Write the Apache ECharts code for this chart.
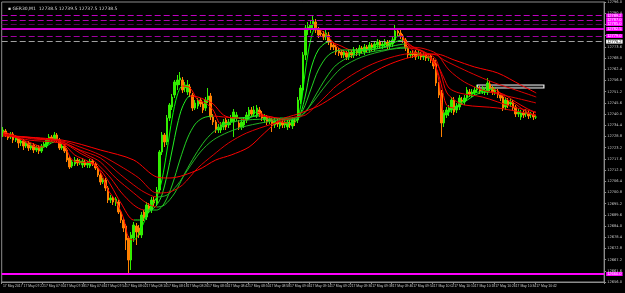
<!DOCTYPE html>
<html><head><meta charset="utf-8">
<script src="https://cdn.jsdelivr.net/npm/echarts@6/dist/echarts.min.js"></script>
<style>html,body{margin:0;padding:0;background:#000;}#c{width:625px;height:293px;}</style>
</head><body><div id="c"></div>
<script>
const symbolTitle = '\u25AA GER30,M1  12738.5 12739.5 12737.5 12738.5';
const xTickLabels = ['17 May 2017','17 May 07:22','17 May 07:30','17 May 07:38','17 May 07:46','17 May 07:54','17 May 08:02','17 May 08:10','17 May 08:18','17 May 08:26','17 May 08:34','17 May 08:42','17 May 08:50','17 May 08:58','17 May 09:06','17 May 09:14','17 May 09:22','17 May 09:30','17 May 09:38','17 May 09:46','17 May 09:54','17 May 10:02','17 May 10:10','17 May 10:18','17 May 10:26','17 May 10:34','17 May 10:42'];
const barCount = 235;
const startMinute = 7*60+14;
const categories = [];
for (let k=0;k<barCount;k++){const t=startMinute+k;categories.push('17 May '+String(Math.floor(t/60)).padStart(2,'0')+':'+String(t%60).padStart(2,'0'));}

// [open, close, low, high]
const candles = [
[12730.5,12732,12728.5,12733.5],[12731.5,12729.5,12728.5,12732.5],[12729.5,12728,12727,12730.5],[12728.5,12730,12727.5,12731],[12730,12727,12725.5,12731],
[12727,12728.5,12726,12729.5],[12728,12725.5,12723,12729],[12725.5,12726.5,12724,12727.5],[12726.5,12724,12722,12727.5],[12724,12725.5,12723,12726.5],
[12725.5,12723,12721.5,12726.5],[12723,12724.5,12722,12725.5],[12724.5,12722,12720.5,12725.5],[12722,12723.5,12721,12724.5],[12723.5,12721.5,12720,12724.5],
[12721.5,12724,12720.5,12725],[12724,12725,12723,12726],[12724,12727,12723,12728],[12726.5,12728.5,12725.5,12730],[12728.5,12727,12726,12729.5],
[12727,12729.5,12726,12731],[12729.5,12727,12726,12730.5],[12727,12723,12722,12728],[12723,12724,12722,12725],[12724,12721.5,12720.5,12725],
[12722,12717,12716,12723],[12718,12713.5,12712.5,12719],[12714,12716,12713,12717],[12715,12717,12714,12718.5],[12717,12715.5,12714,12718],
[12715.5,12716.5,12714.5,12717.5],[12714.5,12716.5,12713,12718],[12716,12714.5,12713.5,12717],[12714.5,12715.5,12713,12716.5],[12714,12716.5,12713,12717.5],
[12716.5,12715,12714,12717.5],[12715,12713,12712,12716],[12713,12709.5,12708.5,12714],[12709.5,12706,12704.5,12710.5],[12706,12707,12705,12708],
[12707,12703,12701.5,12708],[12703,12697,12695.5,12704],[12697,12698,12695.5,12699.5],[12698,12696,12694.5,12699],[12695.5,12697.5,12694,12698.5],
[12696,12691,12690,12697],[12691,12687,12685.5,12692],[12687,12683,12681,12688],[12684,12677,12672,12685],[12678,12667,12659.5,12679],
[12667,12679.5,12662,12681],[12678,12684.5,12676,12686],[12684,12681,12674.5,12685.5],[12683,12679.5,12678,12684.5],[12679.5,12689.5,12678,12691],
[12691,12688,12686.5,12692],[12688.5,12694.5,12687,12696],[12694,12692,12690.5,12695.5],[12692,12697,12690.5,12698.5],[12697,12695.5,12694,12698.5],
[12695.5,12702,12694,12703.5],[12702,12721,12700.5,12722],[12721,12729.5,12719.5,12731],[12729.5,12726,12723.5,12730.5],[12726,12738,12724.5,12739.5],
[12738,12744.5,12736.5,12745.5],[12743.5,12748.5,12742,12750],[12749.5,12756,12748,12757],[12754.5,12757,12752,12759.5],[12757,12758,12754.5,12761],
[12757,12752,12750.5,12758.5],[12753,12754.5,12751,12756],[12751,12754.5,12749.5,12757],[12753.5,12750.5,12748.5,12755],[12749.5,12743,12741.5,12750.5],
[12743,12745.5,12742,12747],[12744,12747,12742.5,12748],[12747,12745,12743.5,12748],[12745,12742,12740.5,12746],[12743,12747,12741.5,12748.5],
[12747,12749,12745.5,12753],[12749,12738.5,12737,12750.5],[12738.5,12736,12734.5,12740],[12736,12732,12730.5,12737],[12732,12733.5,12730.5,12735],
[12732,12734.5,12730.5,12736],[12733.5,12736,12732,12737.5],[12737,12733.5,12732,12738],[12734.5,12736,12733,12737.5],[12736,12738,12734.5,12739.5],
[12736,12741,12728.5,12742.5],[12738,12739.5,12736.5,12741],[12735.5,12733.5,12732,12737],[12733.5,12736,12732,12737.5],[12734.5,12737,12733,12738.5],
[12737,12739.5,12735.5,12741],[12739,12742,12737.5,12743.5],[12742,12740,12738.5,12743.5],[12740,12742,12738.5,12744],[12739.5,12743,12738,12744.5],
[12742,12740,12738.5,12743.5],[12740,12738,12736.5,12741.5],[12737,12738.5,12735.5,12740],[12738.5,12736,12734.5,12739.5],[12736.5,12737.5,12735,12739],
[12737,12735,12731,12738],[12734.5,12736.5,12733,12738],[12736,12735,12733.5,12737.5],[12734,12736.5,12732.5,12738],[12736,12734.5,12733,12737.5],
[12734.5,12736,12733,12737.5],[12733.5,12736,12732,12737.5],[12735.5,12734.5,12733,12737],[12734,12737,12732.5,12738.5],[12736.5,12736,12734,12738],
[12737,12747,12735.5,12748.5],[12747,12753,12745,12754.5],[12752,12769.5,12750.5,12771],[12769.5,12783,12767,12784.5],[12782,12783.5,12779.5,12786],
[12783,12784.5,12780.5,12787],[12784.5,12787,12783,12789.5],[12786,12782,12780.5,12787.5],[12782,12779.5,12778,12783.5],[12780.5,12780,12778.5,12782],
[12780,12778.5,12777,12781.5],[12778.5,12780.5,12777,12782],[12779.5,12776,12774.5,12781],[12776,12773.5,12772,12777],[12774.5,12773.5,12772,12775.5],
[12773.5,12771,12769.5,12774.5],[12772,12770.5,12769,12773],[12771,12769.5,12768,12772],[12769.5,12771,12768,12772],[12770.5,12768.5,12767,12771.5],
[12768.5,12771,12767,12772.5],[12771,12769.5,12768,12772],[12769.5,12772,12768,12773.5],[12772,12770.5,12769,12773],[12770.5,12773,12769,12774.5],
[12773,12771.5,12770,12774],[12771,12773.5,12769.5,12775],[12773.5,12772.5,12771,12774.5],[12772,12774.5,12770.5,12776],[12774.5,12773,12771.5,12775.5],
[12773,12775,12771.5,12776.5],[12774.5,12776,12773,12777.5],[12776,12774,12772.5,12777],[12774,12775,12772.5,12776.5],[12774.5,12776,12773,12777.5],
[12776,12774,12772.5,12777],[12774,12775.5,12772.5,12777],[12775,12777,12773.5,12778.5],[12777,12781.5,12775.5,12784.5],[12781.5,12780.5,12779,12783],
[12780.5,12779,12777.5,12782],[12779,12777,12775.5,12780],[12777,12773,12771.5,12778],[12773,12769.5,12768,12774],[12769.5,12770.5,12768,12771.5],
[12770.5,12769.5,12768,12772],[12771,12768.5,12767,12772],[12769,12770.5,12767.5,12772],[12770,12768.5,12767,12771],[12768.5,12769.5,12767,12771],
[12769.5,12768,12766.5,12770.5],[12768,12769,12766.5,12770.5],[12769,12767,12765.5,12770],[12767,12764,12762.5,12768],[12765.5,12755.5,12754,12767],
[12754.5,12749.5,12748,12756],[12750.5,12735.5,12728.5,12752],[12735.5,12740.5,12733.5,12742],[12739.5,12742,12738,12743.5],[12741,12743,12739,12744.5],
[12742,12747,12740.5,12748.5],[12747,12741,12739.5,12748.5],[12742,12744,12740.5,12745.5],[12743.5,12748,12742,12749.5],[12747,12746,12744.5,12748.5],
[12746,12748,12744.5,12749.5],[12748,12752,12746.5,12753.5],[12751,12750,12748.5,12752.5],[12750,12751,12748.5,12752.5],[12750.5,12752,12749,12753.5],
[12752,12753,12750.5,12754.5],[12752.5,12751.5,12750,12754],[12751.5,12752.5,12750,12754],[12751,12752,12749.5,12753.5],[12751,12755.5,12749.5,12758],
[12755,12753,12751.5,12756.5],[12753,12751,12749.5,12754],[12751,12752,12749.5,12753.5],[12751.5,12749.5,12748,12752.5],[12749.5,12748,12746.5,12750.5],
[12748.5,12743,12741.5,12749.5],[12743.5,12747,12742,12748.5],[12746.5,12744.5,12743,12748],[12745,12746,12743.5,12747.5],[12746,12743,12741.5,12747],
[12743.5,12740,12738.5,12744.5],[12740,12741,12738.5,12742.5],[12738.5,12740.5,12737,12742],[12740.5,12739.5,12738,12742],[12740,12741,12738.5,12742.5],
[12740.5,12739,12737.5,12742],[12739.5,12740,12738,12741],[12739.5,12738.5,12737,12741],[12738.5,12738.5,12737.5,12739.5]
];

// moving-average lines: [bar index, price]
const ma1 = [[0,12731],[5,12729],[10,12725],[15,12723],[18,12725.5],[21,12727.5],[24,12724],[27,12717],[30,12716],[35,12715.5],[38,12711],[41,12702],[44,12696.5],[47,12688],[49,12678],[51,12677],[54,12683],[57,12692],[60,12698.5],[62,12707],[64,12722],[66,12738],[68,12749.5],[70,12754],[73,12753],[76,12747],[79,12745.5],[82,12742],[85,12735],[88,12735],[91,12738],[95,12737],[99,12741],[103,12738.5],[107,12736.5],[111,12735.5],[114,12736],[116,12743],[118,12762],[120,12777],[122,12783],[125,12781],[128,12777],[131,12773],[135,12770.5],[140,12771.5],[145,12773.5],[150,12775],[153,12778],[155,12779.5],[158,12774.5],[161,12770.5],[165,12769],[168,12766],[170,12757],[171,12747],[172,12740.5],[174,12741],[177,12744],[180,12747],[184,12750.5],[188,12751.5],[191,12752.5],[194,12750.5],[197,12747],[200,12745],[203,12742],[206,12740],[208,12739]];
const ma2 = [[0,12730.5],[10,12726],[16,12723.5],[20,12726],[24,12724.5],[28,12719.5],[33,12716.5],[38,12712],[42,12704.5],[46,12695.5],[51,12687],[54,12687],[57,12691],[60,12694.5],[62,12699.5],[64,12709.5],[66,12722],[68,12734.5],[70,12743.5],[73,12749],[76,12748.5],[79,12747],[82,12745],[86,12739.5],[90,12738],[95,12738],[100,12739.5],[105,12738.5],[110,12737],[114,12737],[116,12740],[118,12749.5],[120,12762],[123,12772],[127,12776],[131,12774.5],[136,12772],[142,12772],[150,12774],[153,12776],[156,12777],[160,12773.5],[165,12770.5],[169,12763],[171,12754.5],[173,12744.5],[176,12743],[180,12746],[185,12750],[190,12751],[195,12750],[200,12746],[204,12743],[208,12740.5]];
const ma3 = [[0,12730],[10,12727],[20,12726],[25,12724.5],[30,12720.5],[35,12717],[38,12713.5],[42,12708],[46,12701],[51,12694.5],[55,12692],[60,12692],[63,12695.5],[66,12704.5],[69,12717],[72,12728],[75,12735],[78,12738],[82,12739],[86,12738.5],[92,12738],[100,12739],[108,12738],[114,12738],[117,12742],[120,12752],[123,12762],[127,12769.5],[132,12772],[138,12772],[145,12772.5],[152,12774],[157,12775],[162,12772],[167,12769.5],[169,12767],[171,12759.5],[173,12751],[176,12747],[180,12744.5],[193,12743],[208,12739.5]];
const ma4 = [[0,12730],[12,12727.5],[22,12726.5],[28,12723],[33,12719.5],[38,12716],[44,12708],[51,12700.5],[56,12695.5],[60,12693.5],[63,12694.5],[67,12700.5],[71,12710.5],[75,12719.5],[79,12727],[83,12732],[88,12735.5],[95,12737],[105,12737.5],[114,12737.5],[118,12741],[122,12749.5],[126,12758],[130,12764.5],[136,12769],[143,12771],[152,12772.5],[158,12773],[164,12771],[169,12765.5],[172,12758],[174,12753],[178,12750.5],[187,12748.5],[199,12743.5],[208,12741]];
const ma5 = [[0,12729.5],[15,12727.5],[23,12726],[30,12722],[38,12718],[46,12709.5],[51,12704.5],[55,12701],[60,12698.5],[64,12699.5],[68,12704.5],[72,12712],[77,12721],[82,12727],[88,12731],[95,12734],[105,12736.5],[114,12738],[117,12740],[121,12746],[126,12754.5],[132,12763],[140,12768.5],[150,12772],[157,12773.5],[163,12773],[168,12771],[170,12769],[174,12762],[180,12756],[187,12752],[193,12750],[200,12748],[208,12745.5]];
const ma6 = [[0,12729.5],[23,12726.5],[30,12723.5],[38,12719.5],[47,12713],[53,12708],[60,12700.5],[65,12701],[70,12704.5],[76,12713],[82,12719.5],[88,12725.5],[95,12730.5],[105,12735],[114,12738.5],[118,12739.5],[122,12744],[126,12749],[130,12754],[138,12761],[146,12766],[155,12769.5],[162,12770.5],[169,12769.5],[172,12767],[180,12762],[187,12758],[193,12755],[200,12752],[208,12748.5]];
const ma7 = [[0,12729],[23,12727],[38,12722],[51,12717],[60,12708.5],[65,12708],[76,12712],[83,12717],[89,12719.5],[96,12723.5],[102,12730.5],[108,12737],[115,12740],[123,12744],[130,12749.5],[138,12756],[146,12762],[153,12766],[161,12769],[169,12770],[176,12767],[184,12763.5],[193,12760.5],[202,12754.5],[208,12750.5]];

const levelPrices = [12789.2, 12787, 12785, 12782.5, 12779, 12776.2, 12660];
const lastPrice = 12738.5;
const boxRange = {fromBar:185, toBar:211, top:12754.5, bottom:12753};

const levelStyles = [
  {color:'#c000c0', type:[6,3], width:1, bg:'#ff00ff'},
  {color:'#b000b0', type:[6,3], width:1, bg:'#ff00ff'},
  {color:'#5a005a', type:[6,3], width:1, bg:'#ff00ff'},
  {color:'#d000d0', type:'solid', width:2, bg:'#ff00ff'},
  {color:'#a000a0', type:[6,3], width:1, bg:'#ff00ff'},
  {color:'#a0a0a0', type:[6,3], width:1, bg:'#ffffff'},
  {color:'#ff00ff', type:'solid', width:2, bg:'#ff00ff'}
];

function slopePieces(pts, up, down){
  const p=[];
  for(let k=0;k<pts.length-1;k++){
    const c = pts[k+1][1] >= pts[k][1] ? up : down;
    const piece = {gte: pts[k][0], color: c};
    if(k===pts.length-2) piece.lte = pts[k+1][0]; else piece.lt = pts[k+1][0];
    p.push(piece);
  }
  return p;
}

const slopeLines = [
  {data: ma1, up:'#00ff00', down:'#ff0000'},
  {data: ma2, up:'#20f020', down:'#ff0000'},
  {data: ma3, up:'#22d022', down:'#f00000'},
  {data: ma4, up:'#22c022', down:'#e80000'},
  {data: ma5, up:'#22b022', down:'#e00000'}
];
const fixedLines = [{data: ma6, color:'#e00000'},{data: ma7, color:'#ff0000'}];

const series = [{
  type:'candlestick', data: candles, barWidth: 2, z: 2,
  itemStyle:{color:'#33ee00', color0:'#ff8000', borderColor:'#33ee00', borderColor0:'#ff8000', borderWidth:1},
  markLine:{
    silent:true, symbol:'none', animation:false,
    data: levelPrices.map((v,i)=>({yAxis:v, lineStyle:{color:levelStyles[i].color, type:levelStyles[i].type, width:levelStyles[i].width},
      label:{show:true, position:'end', distance:2, formatter:v.toFixed(1), fontSize:4, color: levelStyles[i].bg==='#ffffff'?'#000':'#fff', backgroundColor: levelStyles[i].bg, padding:[0,1]}}))
      .concat([{yAxis:lastPrice, lineStyle:{opacity:0}, label:{show:true, position:'end', distance:2, formatter:lastPrice.toFixed(1), fontSize:4, color:'#000', backgroundColor:'#ffffff', padding:[0,1]}}])
  },
  markArea:{silent:true, itemStyle:{color:'rgba(70,70,70,0.5)', borderColor:'#f0f0f0', borderWidth:1.2},
    data:[[{xAxis:boxRange.fromBar, yAxis:boxRange.top},{xAxis:boxRange.toBar, yAxis:boxRange.bottom}]]}
}];
const visualMaps = [];
slopeLines.forEach((l,i)=>{
  series.push({type:'line', data:l.data, showSymbol:false, smooth:0.3, z:3, lineStyle:{width:1}, animation:false});
  visualMaps.push({type:'piecewise', show:false, dimension:0, seriesIndex: series.length-1, pieces: slopePieces(l.data, l.up, l.down)});
});
fixedLines.forEach(l=>{
  series.push({type:'line', data:l.data, showSymbol:false, smooth:0.3, z:3, lineStyle:{width:1, color:l.color}, itemStyle:{color:l.color}, animation:false});
});

const chart = echarts.init(document.getElementById('c'), null, {renderer:'canvas'});
chart.setOption({
  backgroundColor:'#000000',
  animation:false,
  title:{text:symbolTitle, left:3, top:1, textStyle:{fontSize:4.5, color:'#d8d8d8', fontWeight:'normal', fontFamily:'DejaVu Sans'}},
  grid:{left:1, right:13, top:2, bottom:11, show:true, borderColor:'#8c8c8c', borderWidth:1},
  visualMap: visualMaps,
  xAxis:{type:'category', data:categories, boundaryGap:true,
    axisLine:{lineStyle:{color:'#8c8c8c'}},
    axisTick:{show:true, length:2, lineStyle:{color:'#8c8c8c'}, interval:(idx)=> idx%8===0 && idx<=208},
    axisLabel:{interval:7, align:'left', margin:3, fontSize:3.4, color:'#c8c8c8', fontFamily:'Liberation Sans',
      formatter:(v,idx)=> xTickLabels[idx/8] || ''},
    splitLine:{show:false}},
  yAxis:{type:'value', position:'right', min:12656, max:12796, interval:5.6, scale:true,
    axisLine:{show:true, lineStyle:{color:'#8c8c8c'}},
    axisTick:{show:true, length:2, lineStyle:{color:'#8c8c8c'}},
    axisLabel:{fontSize:3.6, color:'#c8c8c8', margin:3, fontFamily:'DejaVu Sans', formatter:(v)=>v.toFixed(1)},
    splitLine:{show:false}},
  series: series
});
</script></body></html>
